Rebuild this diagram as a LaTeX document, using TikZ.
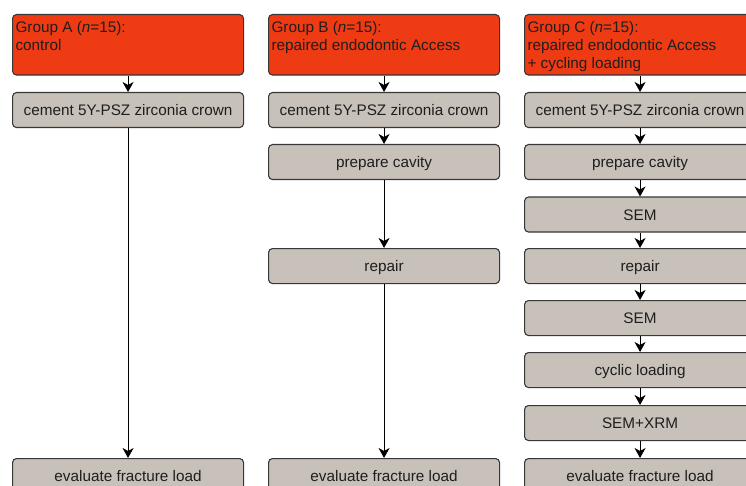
\documentclass[tikz,border=0pt]{standalone}
\usepackage{fontspec}
\setmainfont{Liberation Sans}
\usetikzlibrary{arrows.meta}
\definecolor{redbox}{RGB}{238,59,20}
\definecolor{graybox}{RGB}{200,193,185}
\definecolor{edgecol}{RGB}{55,55,55}
\definecolor{ink}{RGB}{30,30,30}
\tikzset{
 grp/.style={draw=edgecol, line width=1.1pt, fill=redbox, rounded corners=4pt, anchor=north west, inner xsep=3pt, inner ysep=5pt, text=ink, font=\fontsize{15.3}{18}\selectfont},
 stepbox/.style={draw=edgecol, line width=1.1pt, fill=graybox, rounded corners=4pt, anchor=north west, minimum width=231pt, minimum height=35pt, inner sep=0pt, text height=14pt, text depth=3pt, text=ink, font=\fontsize{15.3}{18}\selectfont},
 flow/.style={-{Stealth[length=10pt,width=11pt,inset=3pt]}, line width=1pt, black}
}
\newcommand\grptext[1]{\parbox[c][50.5pt][t]{225pt}{\raggedright\strut #1}}
\begin{document}
\begin{tikzpicture}[x=1pt,y=-1pt]
\useasboundingbox (0,0) rectangle (746,486);
\clip (0,0) rectangle (746,486);
% Group A
\node[grp] (a0) at (12,14) {\grptext{Group A (\textit{n}=15):\\control}};
\node[stepbox] (a1) at (12,92) {cement 5Y-PSZ zirconia crown};
\node[stepbox] (a2) at (12,458) {evaluate fracture load};
% Group B
\node[grp] (b0) at (268,14) {\grptext{Group B (\textit{n}=15):\\repaired endodontic Access}};
\node[stepbox] (b1) at (268,92) {cement 5Y-PSZ zirconia crown};
\node[stepbox] (b2) at (268,144) {prepare cavity};
\node[stepbox] (b3) at (268,248) {repair};
\node[stepbox] (b4) at (268,458) {evaluate fracture load};
% Group C
\node[grp] (c0) at (524,14) {\grptext{Group C (\textit{n}=15):\\repaired endodontic Access\\+ cycling loading}};
\node[stepbox] (c1) at (524,92) {cement 5Y-PSZ zirconia crown};
\node[stepbox] (c2) at (524,144) {prepare cavity};
\node[stepbox] (c3) at (524,196.5) {SEM};
\node[stepbox] (c4) at (524,248) {repair};
\node[stepbox] (c5) at (524,300) {SEM};
\node[stepbox] (c6) at (524,352) {cyclic loading};
\node[stepbox] (c7) at (524,405) {SEM+XRM};
\node[stepbox] (c8) at (524,458) {evaluate fracture load};
% connectors
\draw[flow] (a0) -- (a1);
\draw[flow] (a1) -- (a2);
\draw[flow] (b0) -- (b1);
\draw[flow] (b1) -- (b2);
\draw[flow] (b2) -- (b3);
\draw[flow] (b3) -- (b4);
\draw[flow] (c0) -- (c1);
\draw[flow] (c1) -- (c2);
\draw[flow] (c2) -- (c3);
\draw[flow] (c3) -- (c4);
\draw[flow] (c4) -- (c5);
\draw[flow] (c5) -- (c6);
\draw[flow] (c6) -- (c7);
\draw[flow] (c7) -- (c8);
\end{tikzpicture}
\end{document}
